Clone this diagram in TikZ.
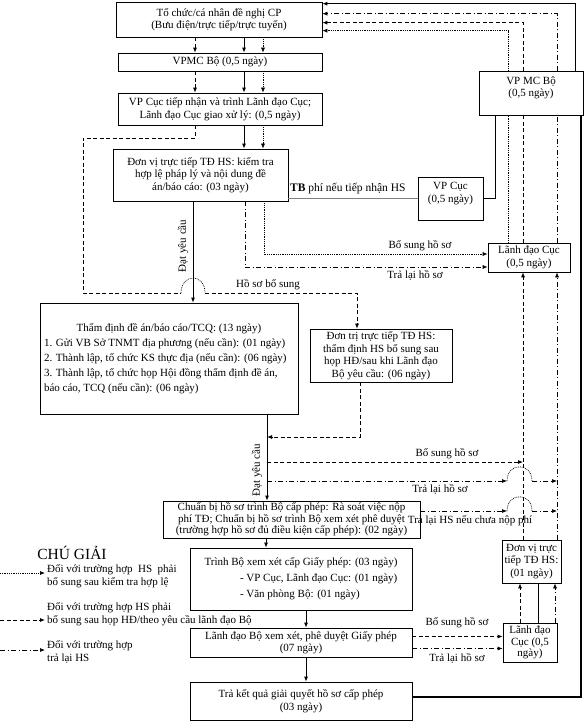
\documentclass[tikz,border=0pt]{standalone}
\usepackage{fontspec}
\setmainfont{Liberation Serif}
\usetikzlibrary{arrows.meta,calc}
\begin{document}
\begin{tikzpicture}
  [
    x=1pt, y=-1pt,
    font=\fontsize{11}{12.5}\selectfont,
    box/.style={draw, line width=0.7pt, align=center, inner sep=1pt},
    arr/.style={-{Latex[length=5pt,width=4pt]}},
    sld/.style={line width=0.9pt},
    dsh/.style={line width=0.8pt, dash pattern=on 4pt off 2.5pt},
    dot/.style={line width=0.7pt, dash pattern=on 0.8pt off 1pt},
    ddt/.style={line width=0.7pt, dash pattern=on 5pt off 2.5pt on 1pt off 2.5pt},
    lbl/.style={inner sep=1pt}
  ]
  \useasboundingbox (0,0) rectangle (586,722);
  % boxes
  \node [box, minimum width=206pt, minimum height=35pt] (top) at (219,19.5)
    {Tổ chức/cá nhân đề nghị CP\\(Bưu điện/trực tiếp/trực tuyến)};
  \node [box, minimum width=204pt, minimum height=18pt] (vpmc) at (220,62) {VPMC Bộ (0,5 ngày)};
  \node [box, minimum width=204pt, minimum height=32pt] (vpcuc) at (220,109)
    {VP Cục tiếp nhận và trình Lãnh đạo Cục;\\Lãnh đạo Cục giao xử lý: (0,5 ngày)};
  \node [box, minimum width=175pt, minimum height=52pt] (kiemtra) at (200.5,175)
    {Đơn vị trực tiếp TĐ HS: kiểm tra\\hợp lệ pháp lý và nội dung đề\\án/báo cáo: (03 ngày)};
  \node [box, minimum width=65pt, minimum height=43pt] (vpcucsm) at (450.5,198.5) {VP Cục\\(0,5 ngày)\\\mbox{}};
  \node [box, minimum width=104pt, minimum height=44pt] (vpmcbo) at (531,93) {VP MC Bộ\\(0,5 ngày)\\\mbox{}};
  \node [box, minimum width=82pt, minimum height=29pt] (ldcuc1) at (529,257.5) {Lãnh đạo Cục\\(0,5 ngày)};
  \node [box, minimum width=258pt, minimum height=111pt, text width=250pt, align=none,
         font=\fontsize{11}{15}\selectfont] (thamdinh) at (169,358.5)
    {\centering Thẩm định đề án/báo cáo/TCQ: (13 ngày)\par\raggedright
     1. Gửi VB Sở TNMT địa phương (nếu cần): (01 ngày)\par
     2. Thành lập, tổ chức KS thực địa (nếu cần): (06 ngày)\par
     3. Thành lập, tổ chức họp Hội đồng thẩm định đề án,\par
     báo cáo, TCQ (nếu cần): (06 ngày)\par};
  \node [box, minimum width=142pt, minimum height=53pt, font=\fontsize{11}{12.5}\selectfont] (dontri) at (381,355.5)
    {Đơn trị trực tiếp TĐ HS:\\thẩm định HS bổ sung sau\\họp HĐ/sau khi Lãnh đạo\\Bộ yêu cầu: (06 ngày)};
  \node [box, minimum width=257pt, minimum height=37pt, font=\fontsize{11}{11.5}\selectfont] (chuanbi) at (291.5,519.5)
    {Chuẩn bị hồ sơ trình Bộ cấp phép: Rà soát việc nộp\\phí TĐ; Chuẩn bị hồ sơ trình Bộ xem xét phê duyệt\\(trường hợp hồ sơ đủ điều kiện cấp phép): (02 ngày)};
  \node [box, minimum width=59pt, minimum height=43pt] (dvtt) at (531.5,561.5) {Đơn vị trực\\tiếp TĐ HS:\\(01 ngày)};
  \node [box, minimum width=222pt, minimum height=62pt, text width=216pt, align=none,
         font=\fontsize{11}{16}\selectfont] (trinhbo) at (301,579)
    {\centering Trình Bộ xem xét cấp Giấy phép: (03 ngày)\par\raggedright
     \hspace*{47pt}- VP Cục, Lãnh đạo Cục: (01 ngày)\par
     \hspace*{47pt}- Văn phòng Bộ: (01 ngày)\par\vspace{4pt}};
  \node [box, minimum width=222pt, minimum height=29pt] (ldbo) at (301,642.5)
    {Lãnh đạo Bộ xem xét, phê duyệt Giấy phép\\(07 ngày)};
  \node [box, minimum width=222pt, minimum height=38pt] (tra) at (301,701)
    {Trả kết quả giải quyết hồ sơ cấp phép\\(03 ngày)};
  \node [box, minimum width=54pt, minimum height=39pt, font=\fontsize{11}{11.5}\selectfont] (ldcuc2) at (530,642.5)
    {Lãnh đạo\\Cục (0,5\\ngày)};
  % columns and levels
  \coordinate (kL) at (195,0);    \coordinate (kM) at (244,0);   \coordinate (kR) at (263,0);
  \coordinate (kMain) at (193,0); \coordinate (kDD) at (245,0);  \coordinate (kDt) at (264,0);
  \coordinate (loopL) at (83,0);  \coordinate (kTh) at (267,0);  \coordinate (kDon) at (357,0);
  \coordinate (kDon2) at (360,0); \coordinate (kTB) at (266,0);  \coordinate (kB) at (306,0);
  \coordinate (rS) at (495,0);    \coordinate (rDt) at (508,0);  \coordinate (rDs) at (523,0);
  \coordinate (rDD) at (557,0);   \coordinate (rOut) at (581,0); \coordinate (rTop) at (575,0);
  \coordinate (rDs2) at (520,0);  \coordinate (rSl) at (538,0);  \coordinate (rDD2) at (555,0);
  \coordinate (yLoop1) at (0,138); \coordinate (yBS1) at (0,254); \coordinate (yTL1) at (0,267);
  \coordinate (yDon) at (0,437);   \coordinate (yBS2) at (0,462); \coordinate (yTL2) at (0,481);
  \coordinate (yTL3) at (0,511);
  \coordinate (hop1a) at (181,293); \coordinate (hop1b) at (205,293);
  \coordinate (hop2a) at (507,481); \coordinate (hop2b) at (532,481);
  \coordinate (hop3a) at (507,511); \coordinate (hop3b) at (532,511);
  % left column
  \foreach \a/\b in {top/vpmc, vpmc/vpcuc} {
    \draw [dsh,arr] (\a.south -| kL) -- (\b.north -| kL);
    \draw [sld,arr] (\a.south -| kM) -- (\b.north -| kM);
    \draw [dot,arr] (\a.south -| kR) -- (\b.north -| kR);
  }
  \draw [sld,arr] (vpcuc.south -| kM) -- (kiemtra.north -| kM);
  \draw [dot,arr] (vpcuc.south -| kR) -- (kiemtra.north -| kR);
  % dashed loop
  \draw [dsh] (vpcuc.south -| kL) |- (loopL |- yLoop1) |- (hop1a);
  \draw [dot] (hop1a) .. controls +(0,-20) and +(0,-20) .. (hop1b);
  \draw [dsh,arr] (hop1b) -| (dontri.north -| kDon);
  \node [lbl] at (268,285) {Hồ sơ bổ sung};
  % main line
  \draw [sld,arr] (kiemtra.south -| kMain) -- (thamdinh.north -| kMain);
  \node [lbl, rotate=90] at (183,246) {Đạt yêu cầu};
  \draw [gray, line width=0.7pt] (kiemtra.east |- vpcucsm.west) -- (vpcucsm.west);
  \node [lbl, anchor=south west, font=\fontsize{11.5}{12}\selectfont] at (289,195) {\textbf{TB} phí nếu tiếp nhận HS};
  \draw [sld] (vpmcbo.south -| rS) |- (vpcucsm.east);
  \draw [dot,arr] (kiemtra.south -| kDt) |- (ldcuc1.west |- yBS1);
  \draw [ddt,arr] (kiemtra.south -| kDD) |- (ldcuc1.west |- yTL1);
  \node [lbl] at (420,246) {Bổ sung hồ sơ};
  \node [lbl] at (415,275) {Trả lại hồ sơ};
  % right column
  \draw [dot] (ldcuc1.north -| rDt) -- (vpmcbo.south -| rDt);
  \draw [dsh] (ldcuc1.north -| rDs) -- (vpmcbo.south -| rDs);
  \draw [ddt] (ldcuc1.north -| rDD) -- (vpmcbo.south -| rDD);
  \draw [dot,arr] (vpmcbo.north -| rDt) |- ($(top.north east)+(0,29)$);
  \draw [dsh,arr] (vpmcbo.north -| rDs) |- ($(top.north east)+(0,21)$);
  \draw [ddt,arr] (vpmcbo.north -| rDD) |- ($(top.north east)+(0,12)$);
  \draw [sld,arr] (vpmcbo.north -| rTop) |- ($(top.north east)+(0,2)$);
  \draw [line width=1.3pt] ($(tra.east)+(0,-4)$) -| (vpmcbo.south -| rOut);
  % second stage
  \draw [sld,arr] (thamdinh.south -| kTh) -- (chuanbi.north -| kTh);
  \node [lbl, rotate=90] at (257,470) {Đạt yêu cầu};
  \draw [dsh,arr] (dontri.south -| kDon2) |- (kTh |- yDon);
  \draw [dsh,arr] (kTh |- yBS2) -- (rDs |- yBS2);
  \node [lbl] at (447,454) {Bổ sung hồ sơ};
  \draw [ddt,arr] (kTh |- yTL2) -- (hop2a);
  \draw [dot] (hop2a) .. controls +(0,-19) and +(0,-19) .. (hop2b);
  \draw [ddt,arr] (hop2b) -- (rDD |- yTL2);
  \node [lbl] at (440,489) {Trả lại hồ sơ};
  \draw [ddt,arr] (chuanbi.east |- yTL3) -- (hop3a);
  \draw [dot] (hop3a) .. controls +(0,-19) and +(0,-19) .. (hop3b);
  \draw [ddt,arr] (hop3b) -- (rDD |- yTL3);
  \node [lbl] at (470,521) {Trả lại HS nếu chưa nộp phí};
  \draw [dsh,arr] (dvtt.north -| rDs) -- (ldcuc1.south -| rDs);
  \draw [ddt,arr] (dvtt.north -| rDD) -- (ldcuc1.south -| rDD);
  \draw [dsh,arr] (ldcuc2.north -| rDs2) -- (dvtt.south -| rDs2);
  \draw [line width=0.6pt] (ldcuc2.north -| rSl) -- (dvtt.south -| rSl);
  \draw [ddt,arr] (ldcuc2.north -| rDD2) -- (dvtt.south -| rDD2);
  % lower chain
  \draw [sld,arr] (chuanbi.south -| kTB) -- (trinhbo.north -| kTB);
  \draw [sld,arr] (trinhbo.south -| kB) -- (ldbo.north -| kB);
  \draw [sld,arr] (ldbo.south -| kB) -- (tra.north -| kB);
  \draw [dsh,arr] ($(ldbo.east)+(0,-6)$) -- ($(ldcuc2.west)+(0,-6)$);
  \draw [ddt,arr] ($(ldbo.east)+(0,6)$) -- ($(ldcuc2.west)+(0,6)$);
  \node [lbl] at (457,623) {Bổ sung hồ sơ};
  \node [lbl] at (457,658) {Trả lại hồ sơ};
  % legend
  \node [lbl, font=\fontsize{15.5}{16}\selectfont] (chugiai) at (72,553) {CHÚ GIẢI};
  \coordinate (lg1a) at (0,573); \coordinate (lg1b) at (45,573);
  \coordinate (lg2a) at (0,620); \coordinate (lg2b) at (45,620);
  \coordinate (lg3a) at (0,650); \coordinate (lg3b) at (45,650);
  \draw [dot,arr] (lg1a) -- (lg1b);
  \draw [dsh,arr] (lg2a) -- (lg2b);
  \draw [ddt,arr] (lg3a) -- (lg3b);
  \node [lbl, anchor=west, align=left] at (46,576) {Đối với trường hợp \ HS \ phải\\bổ sung sau kiểm tra hợp lệ};
  \node [lbl, anchor=west, align=left] at (46,614) {Đối với trường hợp HS phải\\bổ sung sau họp HĐ/theo yêu cầu lãnh đạo Bộ};
  \node [lbl, anchor=west, align=left] at (46,652) {Đối với trường hợp\\trả lại HS};
\end{tikzpicture}
\end{document}
